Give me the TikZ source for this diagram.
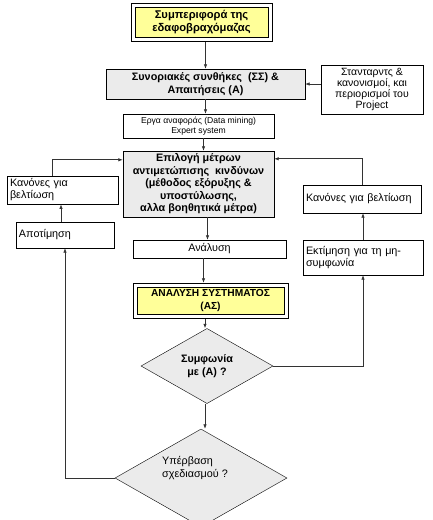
\documentclass[tikz,border=0pt]{standalone}
\usepackage{fontspec}
\setmainfont{Liberation Sans}
\usepackage{tikz}
\usetikzlibrary{shapes.geometric,arrows.meta}
\definecolor{paleyellow}{HTML}{FFFF99}
\definecolor{lightgrey}{HTML}{EBEBEB}
\tikzset{
    box/.style={ draw, thin, inner sep=3pt, align=center, font=\fontsize{10.8}{12}\selectfont },
    boldbox/.style={ box, fill=lightgrey, font=\fontsize{10.8}{12.5}\selectfont\bfseries },
    yellowbox/.style={ box, fill=paleyellow, inner sep=1pt, font=\fontsize{11.2}{13}\selectfont\bfseries },
    question/.style={ diamond, draw, thin, fill=lightgrey, inner sep=0pt },
    arr/.style={ draw=black!80, line width=0.7pt, -{Latex[length=4.5pt,width=3.5pt]} }
}

\begin{document}
\begin{tikzpicture}[x=1pt,y=-1pt]
        \useasboundingbox (0,0) rectangle (432,520);
        \clip (0,0) rectangle (432,520);
        %\draw[step=20, very thin, gray, dashed] (0,0) grid (432,520);

        \node[yellowbox, minimum width=133pt, minimum height=30pt] (behaviour) at (201.5,22)
            {Συμπεριφορά της\\εδαφοβραχόμαζας};
        \node[boldbox, minimum width=199pt, minimum height=30pt] (boundary) at (205.5,84)
            {Συνοριακές συνθήκες~~(ΣΣ) \&\\Απαιτήσεις (Α)};
        \node[box, minimum width=102pt, minimum height=49pt, inner sep=1pt,
              font=\fontsize{10.5}{11.2}\selectfont] (standards) at (372,89.5)
            {Στανταρντς \&\\κανονισμοί, και\\περιορισμοί του\\Project};
        \node[box, minimum width=151pt, minimum height=24pt, inner sep=1pt,
              font=\fontsize{8.6}{10}\selectfont] (cases) at (198.5,126)
            {Εργα αναφοράς (Data mining)\\Expert system};
        \node[boldbox, minimum width=151pt, minimum height=66pt, inner sep=1pt] (measures) at (198.5,184)
            {Επιλογή μέτρων\\αντιμετώπισης~~κινδύνων\\(μέθοδος εξόρυξης \&\\υποστύλωσης,\\αλλα βοηθητικά μέτρα)};
        \node[box, align=left, text width=105pt, minimum height=26pt] (rulesL) at (62.5,190)
            {Κανόνες για\\βελτίωση};
        \node[box, align=left, text width=92pt, minimum height=26pt] (assess) at (65,235)
            {Αποτίμηση};
        \node[box, align=left, text width=112pt, minimum height=28pt] (rulesR) at (362,199)
            {Κανόνες για βελτίωση};
        \node[box, align=left, text width=114pt, minimum height=35pt] (estimate) at (363,257.5)
            {Εκτίμηση για τη μη-\\συμφωνία};
        \node[box, minimum width=153pt, minimum height=18pt, inner sep=1pt] (analysis) at (209.5,249)
            {Ανάλυση};
        \node[yellowbox, minimum width=147pt, minimum height=27pt,
              font=\fontsize{10.2}{12.5}\selectfont\bfseries] (system) at (210.5,300.5)
            {ΑΝΑΛΥΣΗ ΣΥΣΤΗΜΑΤΟΣ\\(ΑΣ)};
        \node[question, minimum width=132pt, minimum height=54pt, align=center,
              font=\fontsize{10.8}{13}\selectfont\bfseries] (agree) at (207,366)
            {Συμφωνία\\με (Α) ?};
        \node[question, minimum width=172pt, minimum height=98pt] (exceed) at (201,478) {};
        \node[align=left, inner sep=0pt, font=\fontsize{10.8}{13}\selectfont] (exceedtext) at (195,468)
            {Υπέρβαση\\σχεδιασμού ?};

        % outer frames with shadow
        \foreach \n in {behaviour, system} {
            \draw[thin] ([shift={(-4pt,4pt)}]\n.north west) rectangle ([shift={(4pt,-4pt)}]\n.south east);
            \draw[line width=1.3pt] ([shift={(-3.5pt,-4.3pt)}]\n.south west) -| ([shift={(4.3pt,3.5pt)}]\n.north east);
        }

        \draw[arr] ([yshift=-5pt]boundary.north |- behaviour.south) -- (boundary.north);
        \draw[arr] (standards.west |- boundary.east) -- (boundary.east);
        \draw[arr] (boundary.south) -- (boundary.south |- cases.north);
        \draw[arr] ([xshift=5pt]cases.south) -- ([xshift=5pt]cases.south |- measures.north);
        \draw[arr] ([xshift=-2pt]analysis.north |- measures.south) -- ([xshift=-2pt]analysis.north);
        \draw[arr] ([xshift=-6pt]analysis.south) -- ([xshift=-6pt,yshift=4pt]analysis.south |- system.north);
        \draw[arr] ([xshift=-2pt,yshift=-5pt]agree.north |- system.south) -- ([xshift=-2pt]agree.north);
        \draw[arr] ([xshift=-2pt]agree.south) -- ([xshift=-2pt]agree.south |- exceed.north);
        \draw[arr] (agree.east) -| (estimate.south);
        \draw[arr] (estimate.north) -- (estimate.north |- rulesR.south);
        \draw[arr] (rulesR.north) |- ([yshift=-8pt]measures.north east);
        \draw[arr] (exceed.west) -| (assess.south);
        \draw[arr] ([xshift=-4pt]assess.north) -- ([xshift=-4pt]assess.north |- rulesL.south);
        \draw[arr] ([xshift=-10pt]rulesL.north) |- ([yshift=-9pt]measures.north west);

    \end{tikzpicture}
\end{document}
